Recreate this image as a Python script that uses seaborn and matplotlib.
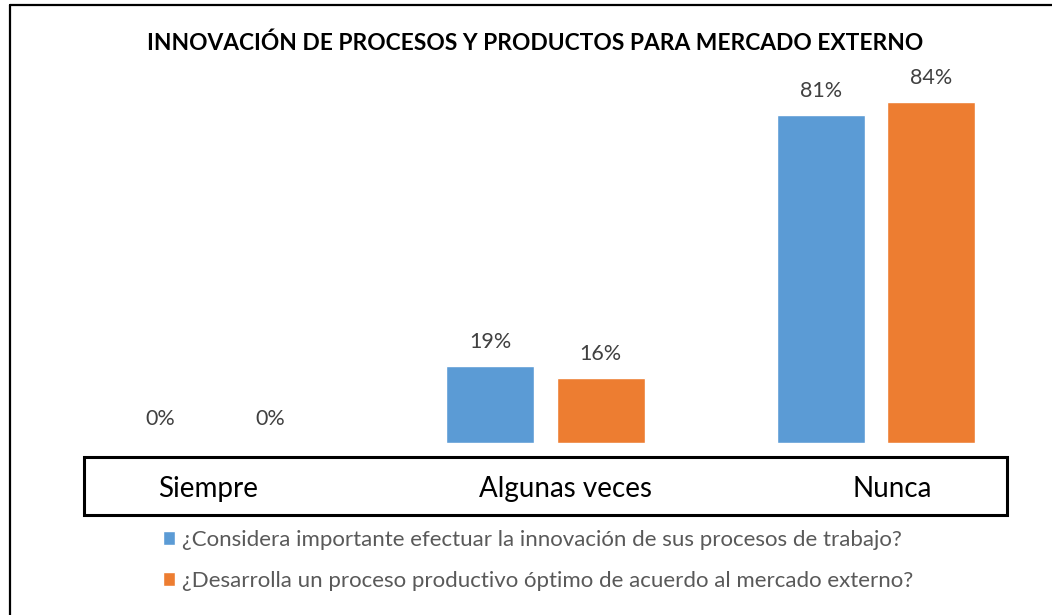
import pandas as pd
import numpy as np
import matplotlib
matplotlib.use("Agg")
import matplotlib.pyplot as plt
import matplotlib.patches as mpatches
from matplotlib.lines import Line2D
from matplotlib.transforms import ScaledTranslation
import seaborn as sns

# data
categorias = ["Siempre", "Algunas veces", "Nunca"]
serie_1 = "¿Considera importante efectuar la innovación de sus procesos de trabajo?"
serie_2 = "¿Desarrolla un proceso productivo óptimo de acuerdo al mercado externo?"
valores_1 = [0, 19, 81]
valores_2 = [0, 16, 84]
titulo = "INNOVACIÓN DE PROCESOS Y PRODUCTOS PARA MERCADO EXTERNO"

df = pd.DataFrame({
    "categoria": categorias * 2,
    "serie": [serie_1] * 3 + [serie_2] * 3,
    "valor": valores_1 + valores_2,
})

sns.set_theme(style="white")
plt.rcParams["font.family"] = ["Lato", "DejaVu Sans"]

W, H = 1052, 615
fig = plt.figure(figsize=(W / 100, H / 100), dpi=100)
ax = fig.add_axes([50 / W, (H - 443) / H, 991 / W, 365 / H])

sns.barplot(data=df, x="categoria", y="valor", hue="serie", order=categorias,
            palette=["#5B9BD5", "#ED7D31"], width=0.667, gap=0.2,
            saturation=1, ax=ax)

for cont in ax.containers:
    ax.bar_label(cont, labels=[f"{int(v)}%" for v in cont.datavalues],
                 padding=10, fontsize=15.5, color="#404040")

ax.set_xlim(-0.5, 2.5)
ax.set_ylim(0, 90)
ax.set_yticks([])
ax.set_xlabel("")
ax.set_ylabel("")
ax.tick_params(axis="x", length=0, pad=24, labelsize=20, labelcolor="black")
# category labels are not exactly centred under the groups in the original
for lab, dx in zip(ax.get_xticklabels(), [-7, 20, 16]):
    lab.set_transform(lab.get_transform() +
                      ScaledTranslation(dx / 100, 0, fig.dpi_scale_trans))
for s in ax.spines.values():
    s.set_visible(False)

# legend below the category box
handles, labels = ax.get_legend_handles_labels()
ax.get_legend().remove()
fig.legend(handles, labels, loc="upper left",
           bbox_to_anchor=(163 / W, (H - 530) / H), frameon=False,
           fontsize=16, labelcolor="#595959", handlelength=0.55,
           handleheight=0.55, handletextpad=0.3, labelspacing=0.93,
           borderpad=0, borderaxespad=0)

# box around the category labels
fig.add_artist(mpatches.Rectangle((84 / W, (H - 515) / H), 923 / W, 58 / H,
                                  fill=False, lw=2.2, edgecolor="black",
                                  transform=fig.transFigure))

# outer chart border (left and top visible)
fig.add_artist(Line2D([10 / W, 10 / W], [0, (H - 4.5) / H], color="black",
                      lw=1.6, transform=fig.transFigure))
fig.add_artist(Line2D([10 / W, 1], [(H - 4.5) / H, (H - 4.5) / H],
                      color="black", lw=1.6, transform=fig.transFigure))

fig.text(535 / W, (H - 43) / H, titulo, ha="center", va="center",
         fontsize=16.4, fontweight="bold", color="black")

fig.savefig("out.png", dpi=100)
